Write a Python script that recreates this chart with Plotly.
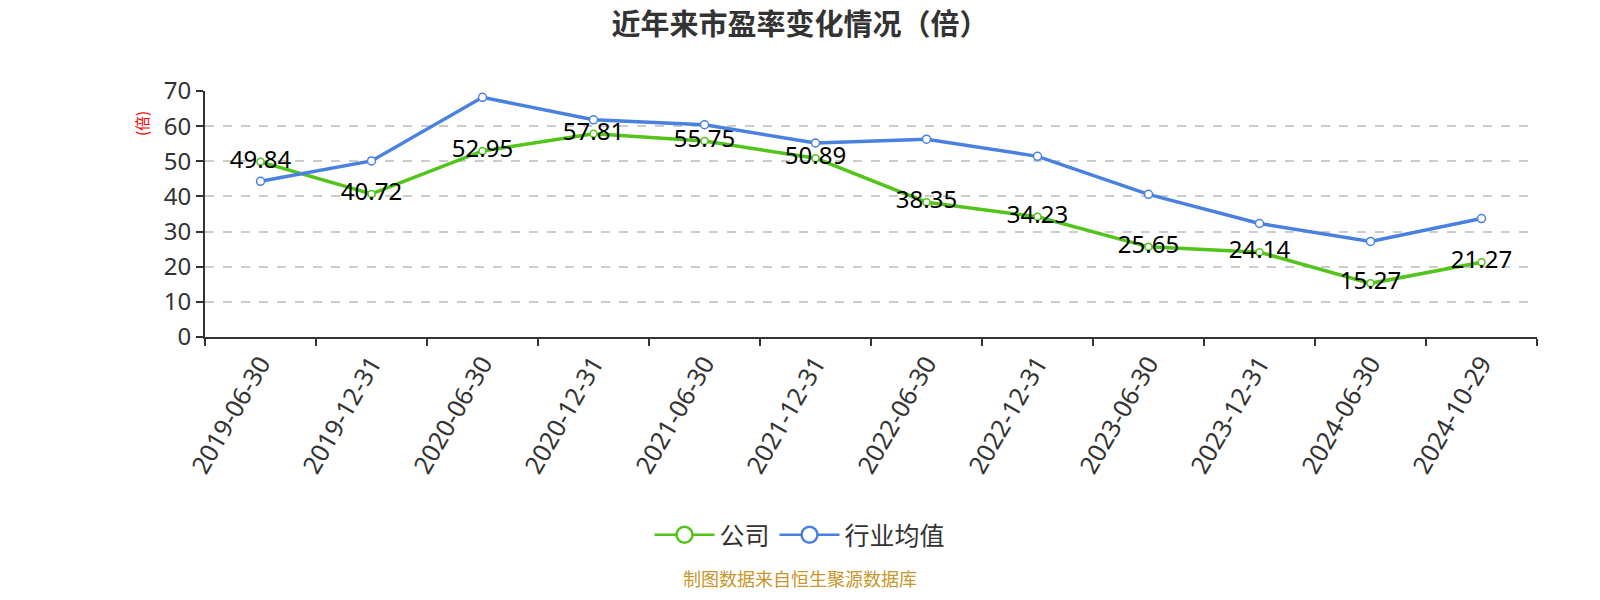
import plotly.graph_objects as go

dates = ["2019-06-30", "2019-12-31", "2020-06-30", "2020-12-31", "2021-06-30", "2021-12-31",
         "2022-06-30", "2022-12-31", "2023-06-30", "2023-12-31", "2024-06-30", "2024-10-29"]
company = [49.84, 40.72, 52.95, 57.81, 55.75, 50.89, 38.35, 34.23, 25.65, 24.14, 15.27, 21.27]
industry = [44.3, 50.1, 68.2, 61.8, 60.4, 55.2, 56.3, 51.4, 40.6, 32.3, 27.2, 33.7]
y_ticks = [0, 10, 20, 30, 40, 50, 60, 70]
series_names = ["公司", "行业均值"]

FONT = "Noto Sans, Noto Sans CJK SC"
CJK = "Noto Sans CJK SC"
green = "#52c41a"
blue = "#4a80e0"

fig = go.Figure()
fig.add_trace(go.Scatter(
    x=dates, y=company, name=series_names[0], mode="lines+markers+text", showlegend=False,
    line=dict(color=green, width=3.5),
    marker=dict(size=7, color="white", line=dict(color=green, width=1.5)),
    text=[f"{v:.2f}" for v in company], textposition="middle center",
    textfont=dict(family=FONT, size=24, color="#000"),
))
fig.add_trace(go.Scatter(
    x=dates, y=industry, name=series_names[1], mode="lines+markers", showlegend=False,
    line=dict(color=blue, width=3.5),
    marker=dict(size=8, color="white", line=dict(color=blue, width=1.5)),
))
# legend entries (no data), with bigger symbols like the reference legend
for nm, col in zip(series_names, [green, blue]):
    fig.add_trace(go.Scatter(
        x=[None], y=[None], name=nm, mode="lines+markers",
        line=dict(color=col, width=2.5),
        marker=dict(size=20, color="white", line=dict(color=col, width=2.5)),
    ))

pw = 1600 - 205 - 63
ph = 600 - 91 - 263

fig.update_layout(
    width=1600, height=600,
    paper_bgcolor="white", plot_bgcolor="white",
    margin=dict(l=205, r=63, t=91, b=263),
    font=dict(family=FONT, color="#333"),
    title=dict(text="<b>近年来市盈率变化情况（倍）</b>", x=0.5, xanchor="center",
               y=1 - 25 / 600, yanchor="middle",
               font=dict(family=CJK, size=29, color="#333")),
    showlegend=True,
    legend=dict(orientation="h", x=(800 - 205) / pw, xanchor="center",
                y=(600 - 263 - 535) / ph, yanchor="middle",
                font=dict(family=CJK, size=25, color="#333"), itemwidth=60,
                itemsizing="trace", tracegroupgap=0),
    xaxis=dict(type="category", tickson="boundaries", ticks="outside", ticklen=7, tickwidth=2,
               tickcolor="#333", showline=True, linecolor="#333", linewidth=2,
               tickangle=-60, tickfont=dict(family=FONT, size=25, color="#333"),
               showgrid=False, range=[-0.5, 11.5], automargin=False),
    yaxis=dict(range=[0, 70], tickvals=y_ticks, ticks="outside", ticklen=7, tickwidth=2,
               tickcolor="#333", showline=True, linecolor="#333", linewidth=2,
               tickfont=dict(family=FONT, size=24, color="#333"),
               showgrid=True, gridcolor="#cccccc", griddash="dash", gridwidth=1.5,
               zeroline=False, automargin=False),
    annotations=[
        dict(text="(倍)", textangle=-90, x=(141 - 205) / pw, xref="paper", xanchor="center",
             y=(600 - 263 - 124) / ph, yref="paper", yanchor="middle", showarrow=False,
             font=dict(family=CJK, size=15, color="red")),
        dict(text="制图数据来自恒生聚源数据库", x=(800 - 205) / pw, xref="paper",
             y=(600 - 263 - 578) / ph, yref="paper", yanchor="middle", showarrow=False,
             font=dict(family=CJK, size=18, color="#c8962a")),
    ],
)

fig.write_html("out.html")
